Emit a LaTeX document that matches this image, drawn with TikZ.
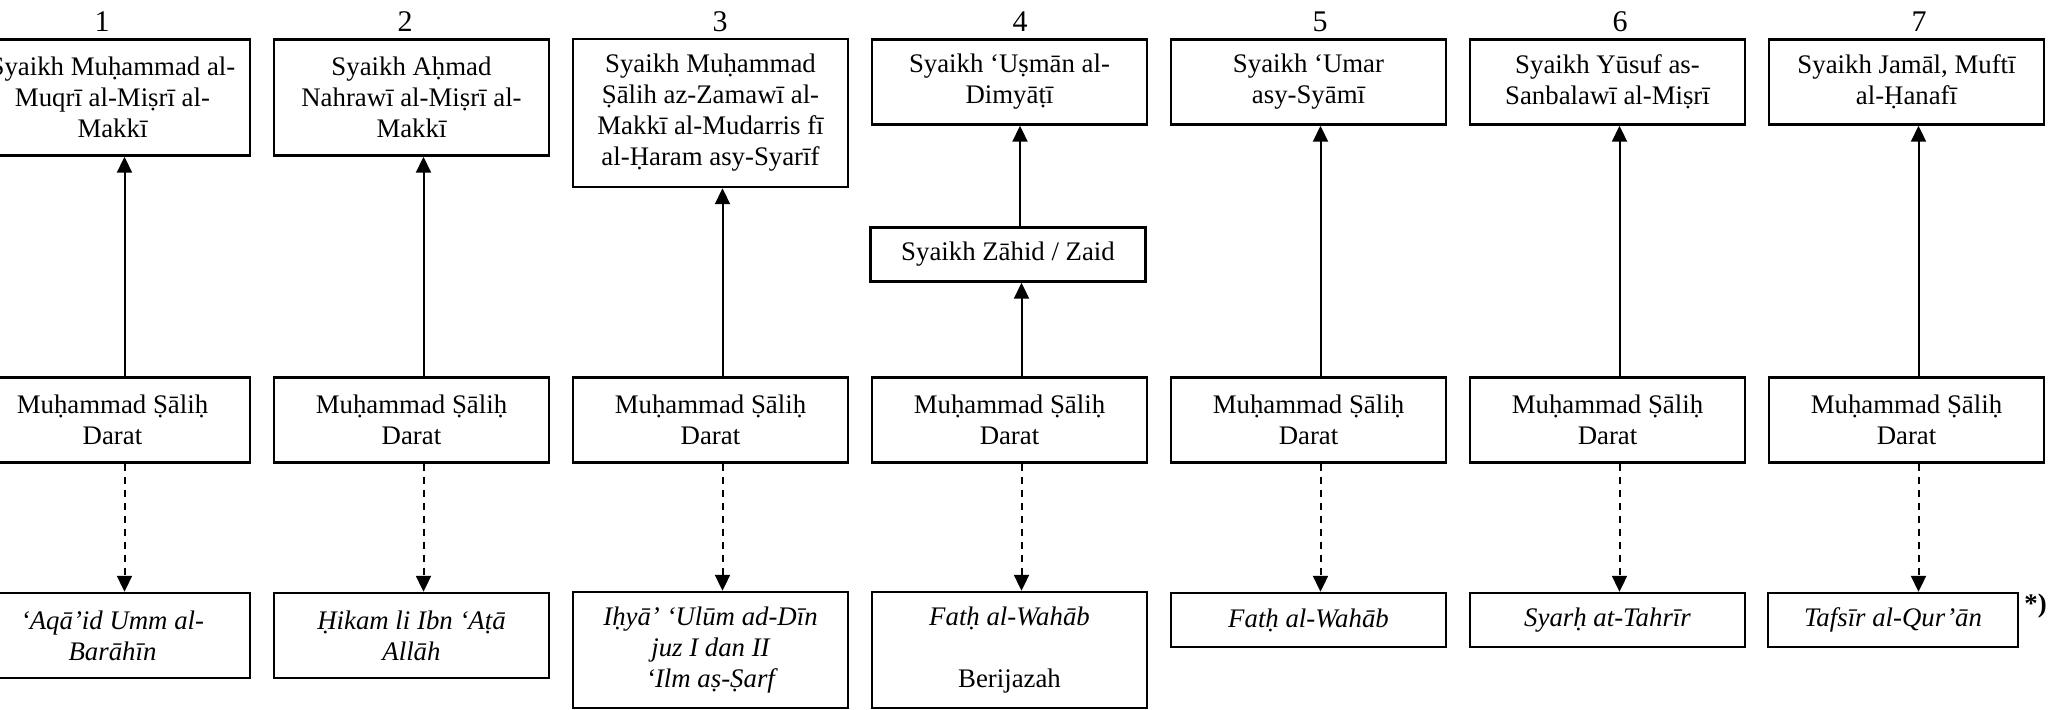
\documentclass[tikz,border=0pt]{standalone}
\usepackage{fontspec}
\setmainfont{Liberation Serif}
\usetikzlibrary{arrows.meta}
\tikzset{
  box/.style={draw, line width=1.2pt, inner sep=0pt, align=center, minimum width=137.5pt,
    font=\fontsize{13.4pt}{15.5pt}\selectfont},
  num/.style={inner sep=0pt, font=\fontsize{15pt}{17pt}\selectfont},
  up/.style={-{Triangle[width=7.5pt,length=8pt]}, line width=1pt},
  dn/.style={-{Triangle[width=7.5pt,length=8pt]}, line width=1pt, dash pattern=on 3.5pt off 3pt},
  h1/.style={minimum height=27pt},
  h2/.style={minimum height=42.5pt},
  h3/.style={minimum height=58pt},
  h4/.style={minimum height=74pt},
}
\begin{document}
\begin{tikzpicture}[x=0.5pt,y=-0.5pt]
\useasboundingbox (0,0) rectangle (2058,709);
\fill[white] (0,0) rectangle (2058,709);
\clip (0,0) rectangle (2058,709);
% numbers
\node[num] (n1) at (102,22) {1};
\node[num] (n2) at (405,22) {2};
\node[num] (n3) at (720,22) {3};
\node[num] (n4) at (1020,22) {4};
\node[num] (n5) at (1320,22) {5};
\node[num] (n6) at (1620,22) {6};
\node[num] (n7) at (1919,22) {7};
% top row
\node[box,h3] (t1) at (112.5,97.5) {Syaikh Muḥammad al-\\Muqrī al-Miṣrī al-\\Makkī};
\node[box,h3] (t2) at (411.5,97.5) {Syaikh Aḥmad\\Nahrawī al-Miṣrī al-\\Makkī};
\node[box,h4] (t3) at (710.5,113) {Syaikh Muḥammad\\Ṣālih az-Zamawī al-\\Makkī al-Mudarris fī\\al-Ḥaram asy-Syarīf};
\node[box,h2] (t4) at (1009.5,82) {Syaikh ‘Uṣmān al-\\Dimyāṭī};
\node[box,h2] (t5) at (1308.5,82) {Syaikh ‘Umar\\asy-Syāmī};
\node[box,h2] (t6) at (1607.5,82) {Syaikh Yūsuf as-\\Sanbalawī al-Miṣrī};
\node[box,h2] (t7) at (1906.5,82) {Syaikh Jamāl, Muftī\\al-Ḥanafī};
\node[box,h1] (z) at (1008,254.5) {Syaikh Zāhid / Zaid};
% middle row
\foreach \i/\x in {1/112.5,2/411.5,3/710.5,4/1009.5,5/1308.5,6/1607.5,7/1906.5}
  \node[box,h2] (m\i) at (\x,420) {Muḥammad Ṣāliḥ\\Darat};
% bottom row
\node[box,h2] (b1) at (112.5,635.5) {\itshape ‘Aqā’id Umm al-\\\itshape Barāhīn};
\node[box,h2] (b2) at (411.5,635.5) {\itshape Ḥikam li Ibn ‘Aṭā\\\itshape Allāh};
\node[box,h3] (b3) at (710.5,650) {\itshape Iḥyā’ ‘Ulūm ad-Dīn\\\itshape juz I dan II\\\itshape ‘Ilm aṣ-Ṣarf};
\node[box,h3] (b4) at (1009.5,650) {\itshape Fatḥ al-Wahāb\\\mbox{}\\Berijazah};
\node[box,h1] (b5) at (1308.5,620) {\itshape Fatḥ al-Wahāb};
\node[box,h1] (b6) at (1607.5,620) {\itshape Syarḥ at-Tahrīr};
\node[box,h1,minimum width=125pt] (b7) at (1893,620) {\itshape Tafsīr al-Qur’ān};
\node[num,font=\fontsize{13.4pt}{15.5pt}\selectfont\bfseries,anchor=west] (star) at (2024,606) {*)};
% solid arrows up
\foreach \i in {1,2,3,5,6,7}
  \draw[up] ([xshift=6pt]m\i.north) -- ([xshift=6pt]m\i.north |- t\i.south);
\draw[up] ([xshift=6pt]m4.north) -- ([xshift=6pt]m4.north |- z.south);
\draw[up] ([xshift=6pt]z.north) -- ([xshift=6pt]z.north |- t4.south);
% dashed arrows down
\foreach \i in {1,2,3,4,5,6,7}
  \draw[dn] ([xshift=6pt]m\i.south) -- ([xshift=6pt]m\i.south |- b\i.north);
\end{tikzpicture}
\end{document}
